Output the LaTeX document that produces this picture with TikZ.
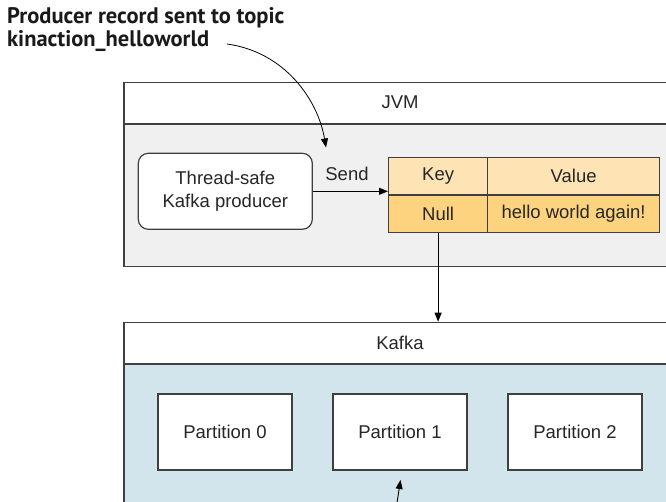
\documentclass[tikz,border=0pt]{standalone}
\usepackage{fontspec}
\setmainfont{Liberation Sans}
\newfontfamily\titlefont{PT Sans}
\usetikzlibrary{arrows.meta}
\definecolor{linegray}{HTML}{3F3F3F}
\definecolor{jvmbody}{HTML}{F0F0F0}
\definecolor{kafkabody}{HTML}{D3E5EC}
\definecolor{keyhead}{HTML}{FEE3B4}
\definecolor{keyrow}{HTML}{FDD37F}
\begin{document}
\begin{tikzpicture}[x=1pt,y=-1pt,
  every node/.style={font=\fontsize{18.5}{22}\selectfont, text=black!85},
  frame/.style={draw=linegray, line width=1.4pt, inner sep=0pt, anchor=north west},
  hdr/.style={frame, fill=white},
  cell/.style={frame, line width=1.2pt},
  partbox/.style={frame, fill=white, line width=1.2pt, minimum width=134pt, minimum height=76pt, anchor=center},
  conn/.style={draw=black, line width=0.9pt, -{Triangle[length=9pt,width=7pt]}}
]
\useasboundingbox (0,0) rectangle (666,502);

% title
\node[anchor=north west, inner sep=0pt, align=left,
      font=\titlefont\bfseries\fontsize{22.5}{23.5}\selectfont, text=black!90] (title) at (7,7)
  {Producer record sent to topic\\kinaction\_helloworld};

% JVM
\node[hdr, minimum width=553.4pt, minimum height=41.6pt] (jvmh) at (123.3,81.7) {};
\node[frame, fill=jvmbody, minimum width=553.4pt, minimum height=142.4pt] (jvmb) at (123.3,123.3) {};
\node (jvmlabel) at (400,102.5) {JVM};

% producer
\node[draw=linegray, line width=1.2pt, fill=white, rounded corners=10pt,
      minimum width=174pt, minimum height=76pt, align=center,
      font=\fontsize{18.5}{23}\selectfont] (prod) at (225.3,191.3)
  {Thread-safe\\Kafka producer};

% record table
\node[cell, fill=keyhead, minimum width=99pt, minimum height=37.5pt] (key) at (388,157) {};
\node[cell, fill=keyhead, minimum width=172pt, minimum height=37.5pt] (val) at (487,157) {};
\node[cell, fill=keyrow, minimum width=99pt, minimum height=37.5pt] (null) at (388,194.5) {};
\node[cell, fill=keyrow, minimum width=172pt, minimum height=37.5pt] (msg) at (487,194.5) {};
\node at (key.center) {Key};
\node at (val.center) {Value};
\node at (null.center) {Null};
\node at (msg.center) {hello world again!};

\node (send) at (347,174) {Send};
\draw[conn] (prod.east) -- (null.west|-prod.east);

% Kafka
\node[hdr, minimum width=553.4pt, minimum height=41.6pt] (kafh) at (123.3,321.7) {};
\node[frame, fill=kafkabody, minimum width=553.4pt, minimum height=170pt] (kafb) at (123.3,363.3) {};
\node (kaflabel) at (400,342.5) {Kafka};

\node[partbox] (p0) at (225,432) {Partition 0};
\node[partbox] (p1) at (400,432) {Partition 1};
\node[partbox] (p2) at (575,432) {Partition 2};

\draw[conn] (null.south) -- (null.south|-kafh.north);

% curved callout
\coordinate (cstart) at (227,44);
\coordinate (ctip) at (326,147.5);
\draw[conn, line width=0.8pt] (cstart) .. controls (285,52) and (318,100) .. (ctip);

% bottom arrow from below
\coordinate (bstart) at (396.5,506);
\coordinate (btip) at (400.5,480);
\draw[conn] (bstart) -- (btip);
\end{tikzpicture}
\end{document}
